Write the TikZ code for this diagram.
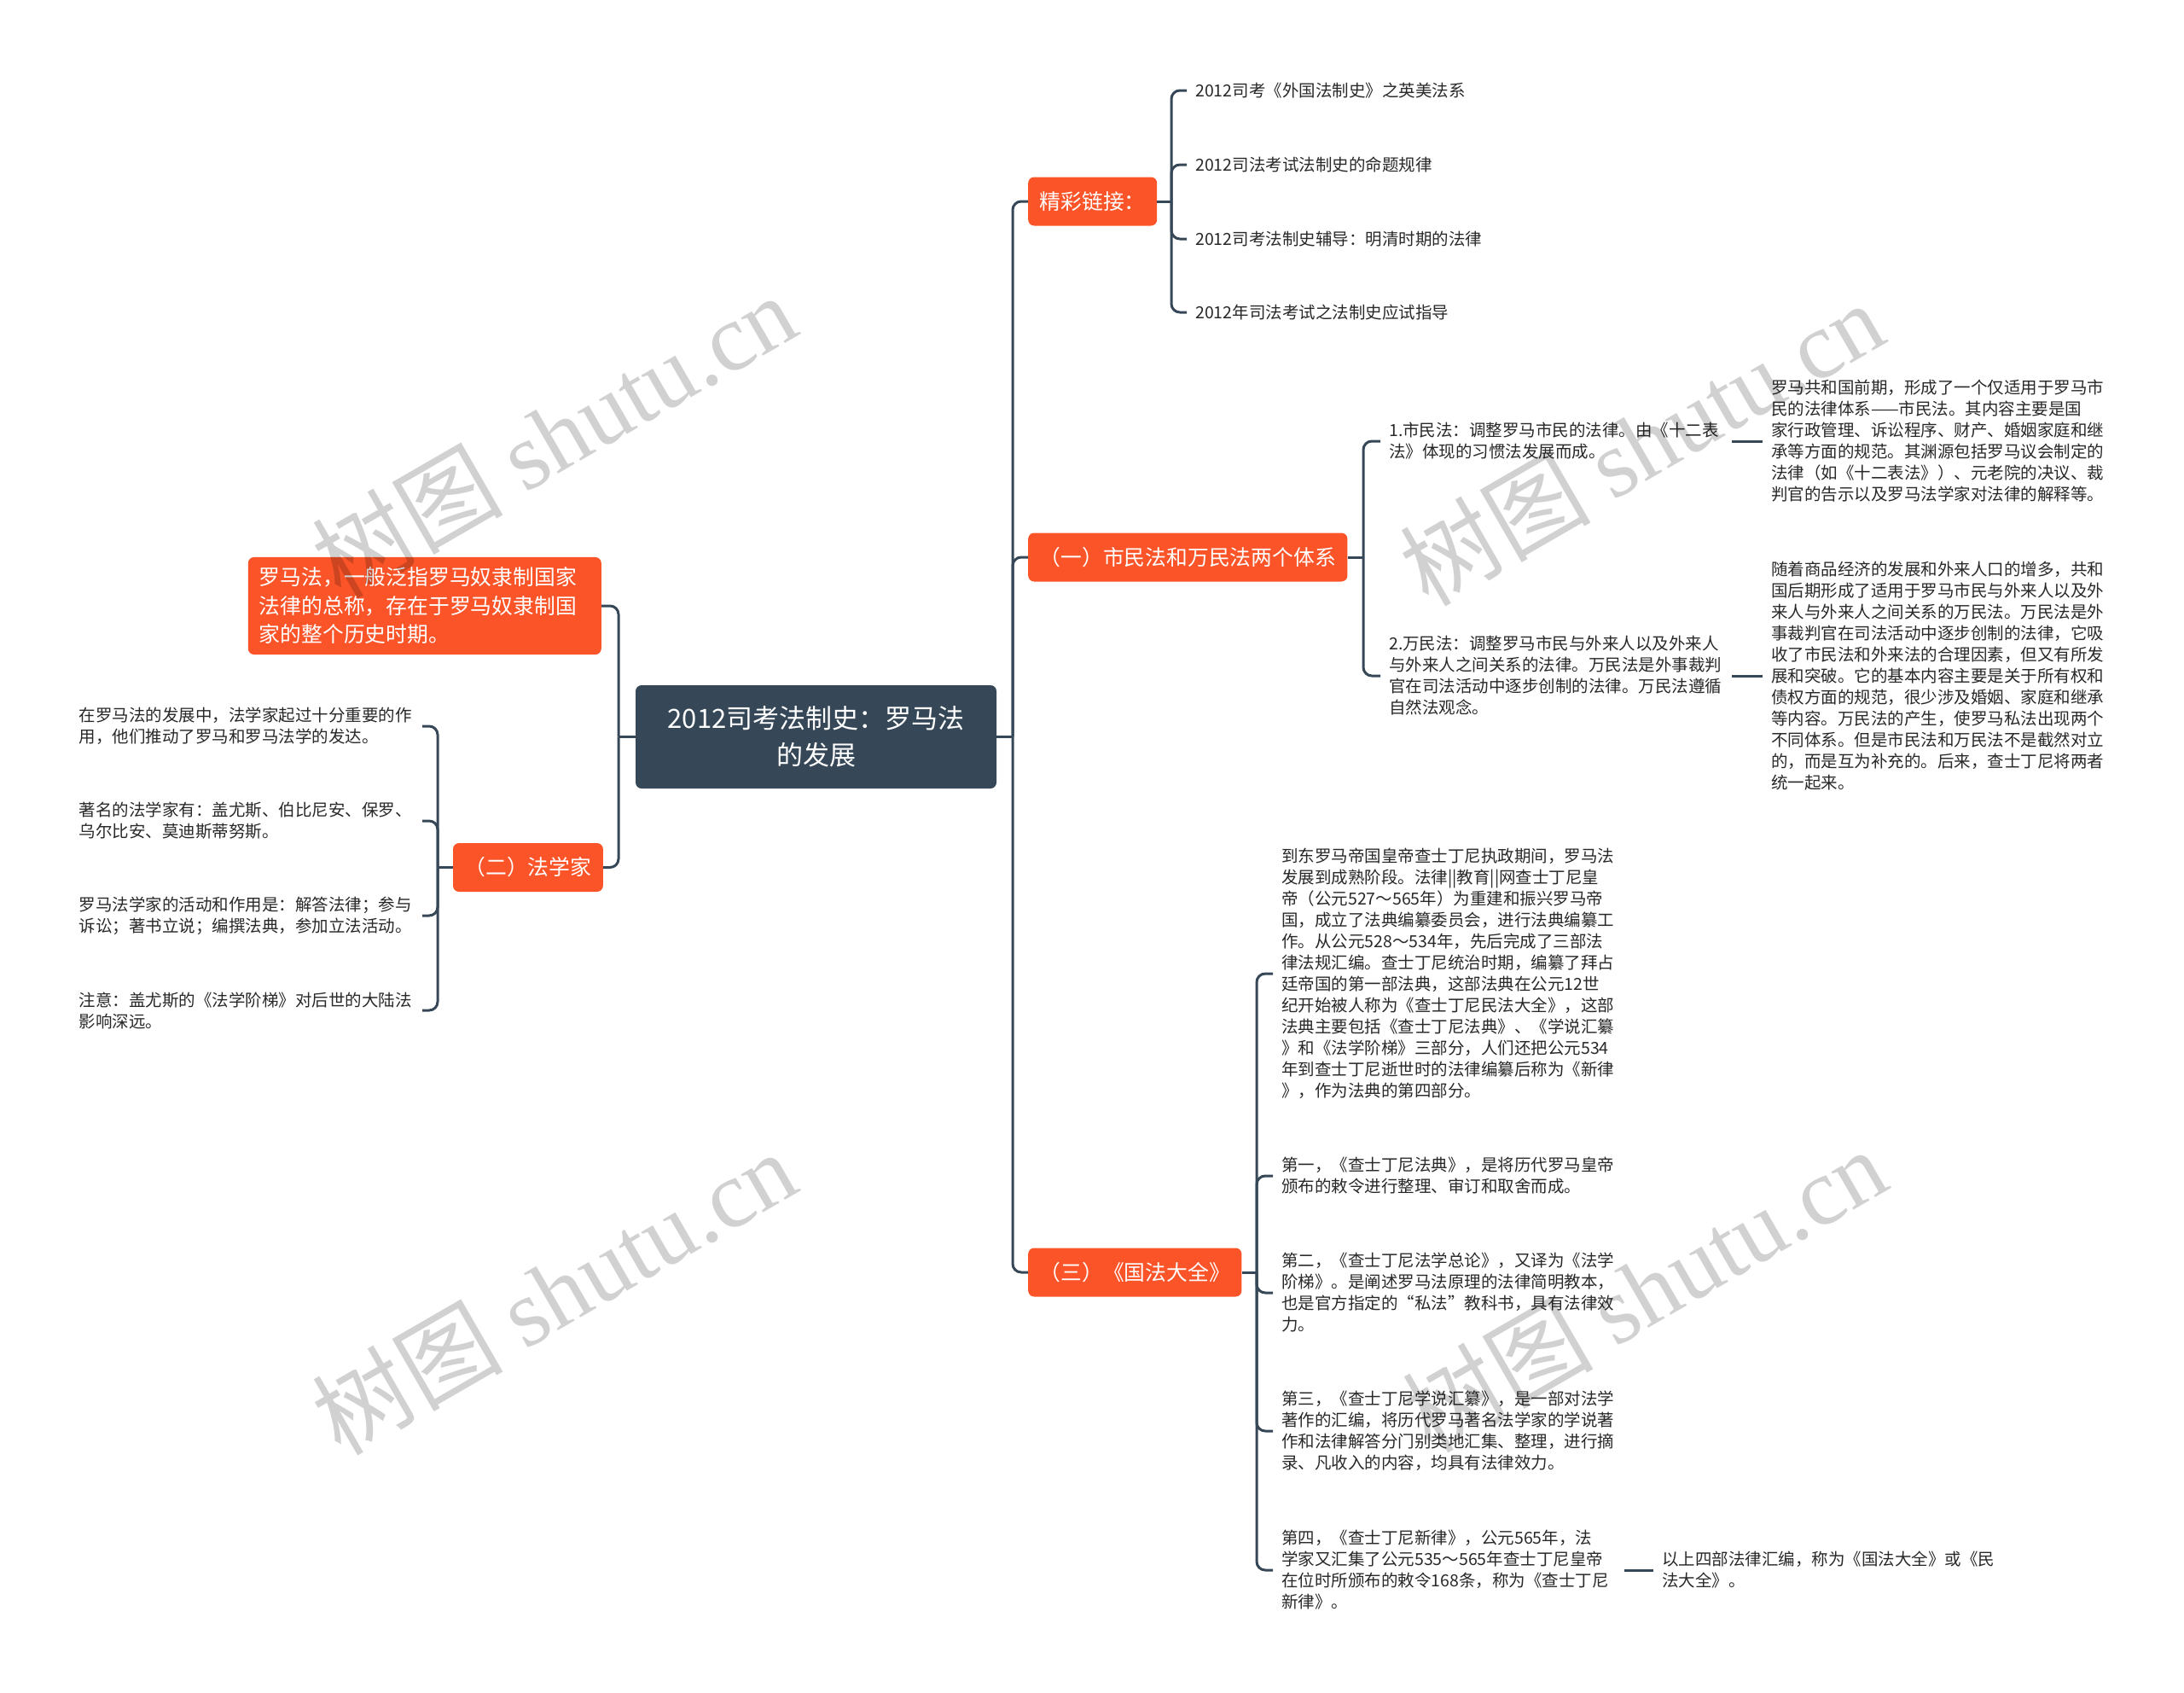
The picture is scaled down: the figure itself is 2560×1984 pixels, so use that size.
\documentclass[tikz,border=0pt]{standalone}
\usepackage{fontspec}
\setmainfont{Noto Sans CJK SC}
\newfontfamily\wmlatin{Liberation Serif}
\definecolor{orng}{RGB}{250,84,40}
\definecolor{slate}{RGB}{54,72,88}
\definecolor{ink}{RGB}{40,40,40}
\newcommand\txts{\fontsize{19.5}{25}\selectfont}
\newcommand\txtm{\fontsize{24.8}{33.5}\selectfont}
\newcommand\txtl{\fontsize{31}{43}\selectfont}
\newcommand\txtw{\fontsize{112}{120}\selectfont}
\begin{document}
\begin{tikzpicture}[x=1pt,y=-1pt,
  rootbox/.style={fill=slate,text=white,rounded corners=7pt,font=\txtl,align=center,minimum width=423pt,minimum height=121pt},
  catbox/.style={fill=orng,text=white,rounded corners=7pt,font=\txtm,inner xsep=13.5pt,minimum height=57pt},
  leaf/.style={text=ink,font=\txts,align=left,text width=392pt,inner xsep=10pt,inner ysep=4pt},
  conn/.style={draw=slate,line width=3pt,rounded corners=10pt},
  wmark/.style={rotate=30,text opacity=0.18,font=\txtw}]
\useasboundingbox (0,0) rectangle (2560,1984);
\node[rootbox] (root) at (956.5,863.5) {2012司考法制史：罗马法\\的发展};
\node[catbox,anchor=west] (jing) at (1205,236) {精彩链接：};
\node[leaf,anchor=west] (lnk1) at (1391,106) {2012司考《外国法制史》之英美法系};
\node[leaf,anchor=west] (lnk2) at (1391,193) {2012司法考试法制史的命题规律};
\node[leaf,anchor=west] (lnk3) at (1391,280) {2012司考法制史辅导：明清时期的法律};
\node[leaf,anchor=west] (lnk4) at (1391,366) {2012年司法考试之法制史应试指导};
\node[catbox,anchor=west] (sys) at (1205,653) {（一）市民法和万民法两个体系};
\node[leaf,anchor=west] (civ1) at (1618,517) {1.市民法：调整罗马市民的法律。由《十二表\\法》体现的习惯法发展而成。};
\node[leaf,anchor=west] (civ2) at (1618,792) {2.万民法：调整罗马市民与外来人以及外来人\\与外来人之间关系的法律。万民法是外事裁判\\官在司法活动中逐步创制的法律。万民法遵循\\自然法观念。};
\node[leaf,anchor=west] (civ1d) at (2066,517) {罗马共和国前期，形成了一个仅适用于罗马市\\民的法律体系——市民法。其内容主要是国\\家行政管理、诉讼程序、财产、婚姻家庭和继\\承等方面的规范。其渊源包括罗马议会制定的\\法律（如《十二表法》）、元老院的决议、裁\\判官的告示以及罗马法学家对法律的解释等。};
\node[leaf,anchor=west] (civ2d) at (2066,792) {随着商品经济的发展和外来人口的增多，共和\\国后期形成了适用于罗马市民与外来人以及外\\来人与外来人之间关系的万民法。万民法是外\\事裁判官在司法活动中逐步创制的法律，它吸\\收了市民法和外来法的合理因素，但又有所发\\展和突破。它的基本内容主要是关于所有权和\\债权方面的规范，很少涉及婚姻、家庭和继承\\等内容。万民法的产生，使罗马私法出现两个\\不同体系。但是市民法和万民法不是截然对立\\的，而是互为补充的。后来，查士丁尼将两者\\统一起来。};
\node[catbox,anchor=west] (code) at (1205,1491) {（三）《国法大全》};
\node[leaf,anchor=west] (cA) at (1492,1141) {到东罗马帝国皇帝查士丁尼执政期间，罗马法\\发展到成熟阶段。法律||教育||网查士丁尼皇\\帝（公元527～565年）为重建和振兴罗马帝\\国，成立了法典编纂委员会，进行法典编纂工\\作。从公元528～534年，先后完成了三部法\\律法规汇编。查士丁尼统治时期，编纂了拜占\\廷帝国的第一部法典，这部法典在公元12世\\纪开始被人称为《查士丁尼民法大全》，这部\\法典主要包括《查士丁尼法典》、《学说汇纂\\》和《法学阶梯》三部分，人们还把公元534\\年到查士丁尼逝世时的法律编纂后称为《新律\\》，作为法典的第四部分。};
\node[leaf,anchor=west] (c1) at (1492,1378) {第一，《查士丁尼法典》，是将历代罗马皇帝\\颁布的敕令进行整理、审订和取舍而成。};
\node[leaf,anchor=west] (c2) at (1492,1515) {第二，《查士丁尼法学总论》，又译为《法学\\阶梯》。是阐述罗马法原理的法律简明教本，\\也是官方指定的“私法”教科书，具有法律效\\力。};
\node[leaf,anchor=west] (c3) at (1492,1677) {第三，《查士丁尼学说汇纂》，是一部对法学\\著作的汇编，将历代罗马著名法学家的学说著\\作和法律解答分门别类地汇集、整理，进行摘\\录、凡收入的内容，均具有法律效力。};
\node[leaf,anchor=west] (c4) at (1492,1840) {第四，《查士丁尼新律》，公元565年，法\\学家又汇集了公元535～565年查士丁尼皇帝\\在位时所颁布的敕令168条，称为《查士丁尼\\新律》。};
\node[leaf,anchor=west] (call) at (1938,1840) {以上四部法律汇编，称为《国法大全》或《民\\法大全》。};
\node[catbox,anchor=east,align=left,text width=388pt,inner xsep=13pt,inner ysep=12pt] (def) at (705,710) {罗马法，一般泛指罗马奴隶制国家\\法律的总称，存在于罗马奴隶制国\\家的整个历史时期。};
\node[catbox,anchor=east] (jur) at (707,1016.5) {（二）法学家};
\node[leaf,anchor=east] (j1) at (495,851) {在罗马法的发展中，法学家起过十分重要的作\\用，他们推动了罗马和罗马法学的发达。};
\node[leaf,anchor=east] (j2) at (495,962) {著名的法学家有：盖尤斯、伯比尼安、保罗、\\乌尔比安、莫迪斯蒂努斯。};
\node[leaf,anchor=east] (j3) at (495,1073) {罗马法学家的活动和作用是：解答法律；参与\\诉讼；著书立说；编撰法典，参加立法活动。};
\node[leaf,anchor=east] (j4) at (495,1184) {注意：盖尤斯的《法学阶梯》对后世的大陆法\\影响深远。};
\coordinate (trR) at (1187,0);
\coordinate (trL) at (725,0);
\coordinate (trK) at (1373,0);
\coordinate (trS) at (1598,0);
\coordinate (trC) at (1473,0);
\coordinate (trJ) at (513,0);
\draw[conn] (root.east) -- (root.east -| trR);
\draw[conn] (root.east -| trR) |- (jing.west);
\draw[conn] (root.east -| trR) |- (sys.west);
\draw[conn] (root.east -| trR) |- (code.west);
\draw[conn] (root.west) -- (root.west -| trL);
\draw[conn] (root.west -| trL) |- (def.east);
\draw[conn] (root.west -| trL) |- (jur.east);
\draw[conn] (jing.east) -- (jing.east -| trK);
\draw[conn] (jing.east -| trK) |- (lnk1.west);
\draw[conn] (jing.east -| trK) |- (lnk2.west);
\draw[conn] (jing.east -| trK) |- (lnk3.west);
\draw[conn] (jing.east -| trK) |- (lnk4.west);
\draw[conn] (sys.east) -- (sys.east -| trS);
\draw[conn] (sys.east -| trS) |- (civ1.west);
\draw[conn] (sys.east -| trS) |- (civ2.west);
\draw[conn] (civ1.east) -- (civ1d.west);
\draw[conn] (civ2.east) -- (civ2d.west);
\draw[conn] (code.east) -- (code.east -| trC);
\draw[conn] (code.east -| trC) |- (cA.west);
\draw[conn] (code.east -| trC) |- (c1.west);
\draw[conn] (code.east -| trC) |- (c2.west);
\draw[conn] (code.east -| trC) |- (c3.west);
\draw[conn] (code.east -| trC) |- (c4.west);
\draw[conn] (c4.east) -- (call.west);
\draw[conn] (jur.west) -- (jur.west -| trJ);
\draw[conn] (jur.west -| trJ) |- (j1.east);
\draw[conn] (jur.west -| trJ) |- (j2.east);
\draw[conn] (jur.west -| trJ) |- (j3.east);
\draw[conn] (jur.west -| trJ) |- (j4.east);
\node[wmark] (wm1) at (649,510) {树图 {\wmlatin shutu.cn}};
\node[wmark] (wm2) at (1924,519) {树图 {\wmlatin shutu.cn}};
\node[wmark] (wm3) at (649,1514) {树图 {\wmlatin shutu.cn}};
\node[wmark] (wm4) at (1927,1511) {树图 {\wmlatin shutu.cn}};
\end{tikzpicture}
\end{document}
